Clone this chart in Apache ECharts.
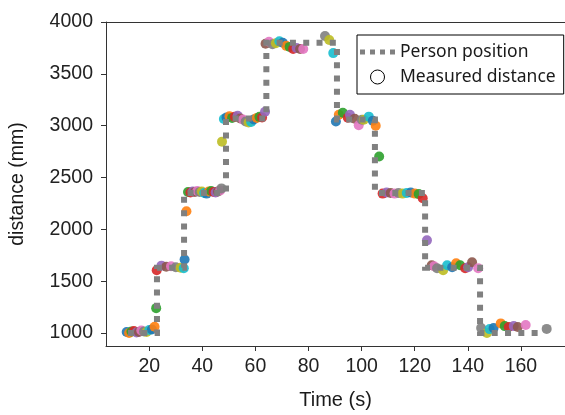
<!DOCTYPE html>
<html>
<head>
<meta charset="utf-8">
<script src="https://cdn.jsdelivr.net/npm/echarts@6/dist/echarts.min.js"></script>
<style>html,body{margin:0;padding:0;background:#fff}#c{width:565px;height:415px}</style>
</head>
<body>
<div id="c"></div>
<script>
// Person position (step line): vertex times and levels
const stepTimes  = [12, 22.9, 33.1, 48.9, 64.1, 90.7, 105.0, 123.9, 144.6, 166.5];
const stepLevels = [1000, 1630, 2350, 3070, 3800, 3060, 2350, 1630, 1000, 1000];

// Measured distance points
const measuredTime = [
  11.5, 12.4, 13.3, 14.2, 15.2, 16.1, 17.0, 18.0, 19.0, 20.0, 21.0, 22.0,
  22.6,
  22.8, 24.6, 26.4, 28.2, 30.0, 31.8, 33.0, 33.3,
  34.0,
  34.6, 35.5, 36.4, 37.2, 38.1, 39.0, 39.8, 40.7, 41.6, 42.4, 43.3, 44.2, 45.0, 45.9, 46.7,
  47.2, 47.4,
  48.1, 49.1, 50.2, 51.2, 52.2, 53.3, 54.3, 55.3, 56.3, 57.4, 58.4, 59.4, 60.5, 61.5, 62.5, 63.6,
  63.8, 65.1, 66.4, 67.7, 69.0, 70.3, 71.6, 72.9, 74.2, 75.5, 76.8, 78.0,
  86.2, 87.8, 89.3,
  90.3, 91.4, 92.9, 94.8, 95.6, 97.4, 98.9, 100.1, 100.8, 102.7, 104.2, 105.3,
  106.6,
  107.9, 109.4, 110.9, 112.4, 113.9, 115.4, 117.0, 118.5, 120.0, 121.5, 123.0,
  124.6,
  126.4, 127.3, 128.4, 130.7, 132.2, 134.1, 135.6, 137.1, 139.0, 140.1, 141.6, 143.9,
  145.0, 147.2, 148.2, 149.7, 152.4, 153.9, 155.4, 157.3, 158.8, 161.8,
  169.7
];
const measuredDist = [
  1010, 1000, 1015, 1020, 1005, 1010, 1025, 1015, 1010, 1030, 1035, 1060,
  1240,
  1605, 1650, 1640, 1645, 1635, 1630, 1625, 1710,
  2175,
  2360, 2355, 2365, 2360, 2370, 2360, 2365, 2350, 2345, 2365, 2370, 2360, 2355, 2365, 2375,
  2395, 2846,
  3065, 3080, 3090, 3075, 3085, 3095, 3070, 3060, 3040, 3030, 3035, 3060, 3075, 3085, 3080, 3135,
  3790, 3810, 3785, 3795, 3815, 3800, 3770, 3760, 3740, 3750, 3740, 3740,
  3865, 3827, 3700,
  3040, 3105, 3125, 3077, 3105, 3067, 3005, 3058, 3058, 3087, 3048, 3000,
  2702,
  2345, 2355, 2350, 2345, 2350, 2345, 2350, 2355, 2345, 2340, 2300,
  1894,
  1654, 1644, 1625, 1606, 1654, 1635, 1673, 1654, 1625, 1635, 1683, 1625,
  1048, 1000, 1038, 1048, 1093, 1067, 1058, 1067, 1058, 1077,
  1040
];

const xTicks = [20, 40, 60, 80, 100, 120, 140, 160];
const yTicks = [1000, 1500, 2000, 2500, 3000, 3500, 4000];
const palette = ['#1f77b4','#ff7f0e','#2ca02c','#d62728','#9467bd','#8c564b','#e377c2','#7f7f7f','#bcbd22','#17becf'];

const stepData = stepTimes.map((t, i) => [t, stepLevels[i]]);
const scatterData = measuredTime.map((t, i) => [t, measuredDist[i]]);

const font = 'Liberation Sans';
const axisColor = '#333';
const chart = echarts.init(document.getElementById('c'), null, {renderer: 'canvas'});
chart.setOption({
  animation: false,
  backgroundColor: '#fff',
  grid: {left: 106, right: 0, top: 22, bottom: 68},
  legend: {
    orient: 'vertical',
    left: 357, top: 35,
    padding: [6, 8, 6, 3],
    itemGap: 3,
    itemWidth: 35, itemHeight: 14,
    backgroundColor: '#fff',
    borderColor: '#000', borderWidth: 1, borderRadius: 0,
    textStyle: {fontFamily: 'Noto Sans', fontSize: 17.5, color: '#1a1a1a', lineHeight: 22},
    data: [
      {name: 'Person position', icon: 'path://M0,0H5V5H0ZM10,0H15V5H10ZM20,0H25V5H20ZM30,0H35V5H30Z', itemStyle: {color: '#808080'}},
      {name: 'Measured distance', icon: 'circle', itemStyle: {color: '#fff', borderColor: '#000', borderWidth: 1, opacity: 1}}
    ]
  },
  xAxis: [{
    type: 'value', min: 3.7, max: 176.6,
    name: 'Time (s)', nameLocation: 'middle', nameGap: 44,
    nameTextStyle: {fontFamily: font, fontSize: 20, color: '#1a1a1a'},
    axisLine: {show: true, lineStyle: {color: axisColor, width: 1}},
    axisTick: {show: true, length: 5, inside: false, customValues: xTicks, lineStyle: {color: axisColor}},
    axisLabel: {customValues: xTicks, margin: 11, fontFamily: font, fontSize: 19.5, color: '#222', formatter: v => String(v)},
    splitLine: {show: false}
  }, {
    type: 'value', position: 'top', min: 3.7, max: 176.6,
    axisLine: {show: true, lineStyle: {color: axisColor, width: 1}},
    axisTick: {show: false}, axisLabel: {show: false}, splitLine: {show: false}
  }],
  yAxis: {
    type: 'value', min: 875, max: 4000,
    name: 'distance (mm)', nameLocation: 'middle', nameGap: 78,
    nameTextStyle: {fontFamily: font, fontSize: 19.5, color: '#1a1a1a'},
    axisLine: {show: true, lineStyle: {color: axisColor, width: 1}},
    axisTick: {show: true, length: 5, inside: false, customValues: yTicks, lineStyle: {color: axisColor}},
    axisLabel: {customValues: yTicks, margin: 13, fontFamily: font, fontSize: 19.5, color: '#222', formatter: v => String(v)},
    splitLine: {show: false}
  },
  series: [
    {
      name: 'Measured distance', type: 'scatter', symbol: 'circle', symbolSize: 10,
      data: scatterData, z: 2,
      itemStyle: {color: p => palette[p.dataIndex % 10], opacity: 0.9}
    },
    {
      name: 'Person position', type: 'line', step: 'end', data: stepData,
      symbol: 'none', z: 3, color: '#808080',
      itemStyle: {color: '#808080'},
      lineStyle: {color: '#808080', width: 6, type: [6, 7.3], cap: 'butt', join: 'miter'}
    }
  ]
});
</script>
</body>
</html>
